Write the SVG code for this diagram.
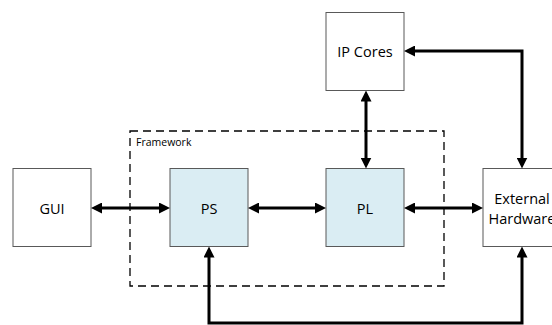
<svg xmlns="http://www.w3.org/2000/svg" width="552" height="325" viewBox="0 0 552 325">
  <defs>
    <style>
      .box { fill: #ffffff; stroke: #595959; stroke-width: 1; }
      .core { fill: #daedf3; stroke: #595959; stroke-width: 1; }
      .frame { fill: none; stroke: #000000; stroke-width: 1.3; stroke-dasharray: 8 5; }
      .lbl { font-family: "Open Sans", "Liberation Sans", sans-serif; font-size: 14.5px; fill: #000000; text-anchor: middle; dominant-baseline: central; }
      .small { font-family: "Open Sans", "Liberation Sans", sans-serif; font-size: 10.5px; fill: #000000; }
      .wire { fill: none; stroke: #000000; stroke-width: 3; marker-start: url(#head); marker-end: url(#head); }
    </style>
    <marker id="head" markerUnits="userSpaceOnUse" markerWidth="11" markerHeight="11" viewBox="0 0 11 11" refX="7" refY="5.5" orient="auto-start-reverse">
      <path d="M0,0 L11,5.5 L0,11 Z" fill="#000000"/>
    </marker>
  </defs>

  <!-- framework boundary -->
  <g id="framework">
    <rect class="frame" x="130" y="131" width="314" height="155"/>
    <text class="small" x="136" y="146">Framework</text>
  </g>

  <g id="gui">
    <rect class="box" x="13" y="168.5" width="78" height="78"/>
    <text class="lbl" x="52" y="208">GUI</text>
  </g>
  <g id="ps">
    <rect class="core" x="170" y="168.5" width="78" height="78"/>
    <text class="lbl" x="209" y="208">PS</text>
  </g>
  <g id="pl">
    <rect class="core" x="326" y="168.5" width="78" height="78"/>
    <text class="lbl" x="365" y="208">PL</text>
  </g>
  <g id="ipcores">
    <rect class="box" x="326" y="12.5" width="78" height="78"/>
    <text class="lbl" x="365" y="51">IP Cores</text>
  </g>
  <g id="external">
    <rect class="box" x="483" y="168.5" width="78" height="78"/>
    <text class="lbl" x="522" y="198">External</text>
    <text class="lbl" x="522" y="218">Hardware</text>
  </g>

  <g id="connectors">
    <path class="wire" d="M95,208 H166"/>
    <path class="wire" d="M252,208 H322"/>
    <path class="wire" d="M408,208 H479"/>
    <path class="wire" d="M366,94.5 V164.5"/>
    <path class="wire" d="M408,51 H522 V164.5"/>
    <path class="wire" d="M209,250.5 V323 H522 V250.5"/>
  </g>
</svg>
